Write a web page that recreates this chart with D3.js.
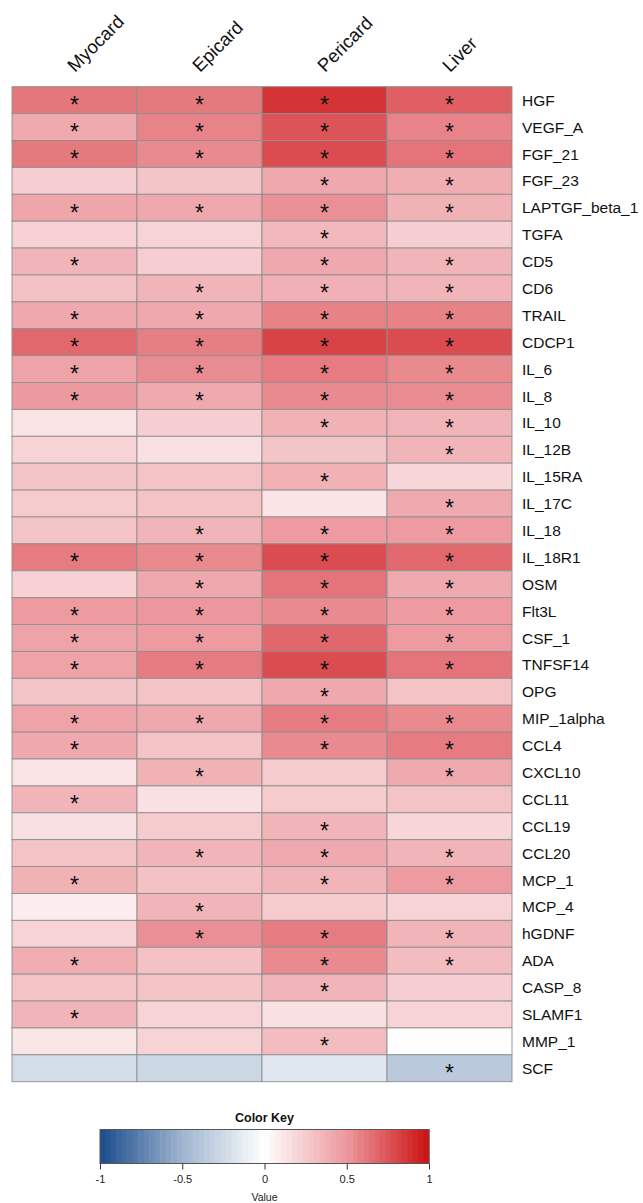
<!DOCTYPE html>
<html>
<head>
<meta charset="utf-8">
<script src="https://cdn.jsdelivr.net/npm/d3@7"></script>
<style>
  html, body { margin: 0; padding: 0; background: #fff; }
  svg { display: block; }
  text { font-family: "Liberation Sans", Arial, Helvetica, sans-serif; }
</style>
</head>
<body>
<div id="chart"></div>
<script>
const columns = ["Myocard", "Epicard", "Pericard", "Liver"];
const rows = ["HGF","VEGF_A","FGF_21","FGF_23","LAPTGF_beta_1","TGFA","CD5","CD6","TRAIL","CDCP1",
  "IL_6","IL_8","IL_10","IL_12B","IL_15RA","IL_17C","IL_18","IL_18R1","OSM","Flt3L",
  "CSF_1","TNFSF14","OPG","MIP_1alpha","CCL4","CXCL10","CCL11","CCL19","CCL20","MCP_1",
  "MCP_4","hGDNF","ADA","CASP_8","SLAMF1","MMP_1","SCF"];

// correlation values per column (row order above)
const myocard  = [0.62,0.41,0.61,0.24,0.43,0.22,0.36,0.30,0.42,0.67,0.44,0.49,0.13,0.21,0.28,0.25,0.29,0.60,0.22,0.48,0.44,0.44,0.28,0.44,0.42,0.13,0.36,0.15,0.29,0.37,0.09,0.21,0.39,0.29,0.36,0.12,-0.23];
const epicard  = [0.61,0.57,0.55,0.28,0.42,0.21,0.24,0.36,0.42,0.59,0.54,0.41,0.24,0.15,0.29,0.29,0.36,0.55,0.42,0.50,0.48,0.60,0.29,0.42,0.29,0.37,0.15,0.25,0.36,0.30,0.36,0.53,0.30,0.29,0.21,0.21,-0.27];
const pericard = [0.87,0.75,0.78,0.42,0.53,0.34,0.42,0.38,0.58,0.81,0.60,0.55,0.37,0.28,0.37,0.13,0.48,0.78,0.63,0.55,0.68,0.78,0.42,0.60,0.55,0.25,0.25,0.36,0.41,0.36,0.25,0.60,0.55,0.36,0.15,0.32,-0.16];
const liver    = [0.71,0.57,0.63,0.39,0.37,0.24,0.36,0.36,0.58,0.78,0.55,0.54,0.36,0.36,0.20,0.41,0.48,0.67,0.41,0.48,0.48,0.63,0.29,0.55,0.60,0.41,0.29,0.20,0.36,0.48,0.21,0.36,0.32,0.24,0.21,0.01,-0.36];

// significance markers (1 = "*")
const sigMyocard  = [1,1,1,0,1,0,1,0,1,1,1,1,0,0,0,0,0,1,0,1,1,1,0,1,1,0,1,0,0,1,0,0,1,0,1,0,0];
const sigEpicard  = [1,1,1,0,1,0,0,1,1,1,1,1,0,0,0,0,1,1,1,1,1,1,0,1,0,1,0,0,1,0,1,1,0,0,0,0,0];
const sigPericard = [1,1,1,1,1,1,1,1,1,1,1,1,1,0,1,0,1,1,1,1,1,1,1,1,1,0,0,1,1,1,0,1,1,1,0,1,0];
const sigLiver    = [1,1,1,1,1,0,1,1,1,1,1,1,1,1,0,1,1,1,1,1,1,1,0,1,1,1,0,0,1,1,0,1,1,0,0,0,1];

const keyTicks = [-1, -0.5, 0, 0.5, 1];
const keyTickLabels = ["-1", "-0.5", "0", "0.5", "1"];

const values = [myocard, epicard, pericard, liver];
const sigs = [sigMyocard, sigEpicard, sigPericard, sigLiver];

const W = 643, H = 1203;
const gx0 = 12, gx1 = 512, gy0 = 86.7, gy1 = 1081.7;

const color = d3.scaleLinear()
  .domain([-1, -0.5, 0, 0.5, 1])
  .range(["#1b4b8c", "#9fb5cf", "#ffffff", "#ec979d", "#cc1111"])
  .interpolate(d3.interpolateRgb)
  .clamp(true);

const x = d3.scaleBand().domain(columns).range([gx0, gx1]);
const y = d3.scaleBand().domain(rows).range([gy0, gy1]);

const svg = d3.select("#chart").append("svg").attr("width", W).attr("height", H);

const cells = [];
columns.forEach((c, ci) => rows.forEach((r, ri) => cells.push({c, r, v: values[ci][ri], s: sigs[ci][ri]})));

const g = svg.append("g");
g.selectAll("rect.cell").data(cells).join("rect")
  .attr("class", "cell")
  .attr("x", d => x(d.c)).attr("y", d => y(d.r))
  .attr("width", x.bandwidth()).attr("height", y.bandwidth())
  .attr("fill", d => color(d.v))
  .attr("stroke", "#8f8f8f").attr("stroke-width", 0.9);

const starFs = 23;
g.selectAll("text.star").data(cells.filter(d => d.s)).join("text")
  .attr("class", "star")
  .attr("x", d => x(d.c) + x.bandwidth() / 2)
  .attr("y", d => y(d.r) + y.bandwidth() / 2 + starFs * 0.56)
  .attr("text-anchor", "middle")
  .attr("font-size", starFs)
  .attr("fill", "#111")
  .text("*");

// row labels
svg.append("g").selectAll("text").data(rows).join("text")
  .attr("x", gx1 + 10)
  .attr("y", d => y(d) + y.bandwidth() / 2)
  .attr("dy", "0.36em")
  .attr("font-size", 15.5)
  .attr("fill", "#111")
  .text(d => d);

// column labels
svg.append("g").selectAll("text").data(columns).join("text")
  .attr("transform", d => `translate(${x(d) + x.bandwidth() / 2 + 0.5},73) rotate(-45)`)
  .attr("font-size", 18.5)
  .attr("fill", "#111")
  .text(d => d);

// color key
const kx0 = 100, kx1 = 429, ky0 = 1129.5, ky1 = 1163.5;
const kx = d3.scaleLinear().domain([-1, 1]).range([kx0, kx1]);
const nb = 60;
const bands = d3.range(nb).map(i => -1 + (i + 0.5) * 2 / nb);
const key = svg.append("g");
key.selectAll("rect").data(bands).join("rect")
  .attr("x", d => kx(d - 1 / nb))
  .attr("y", ky0)
  .attr("width", kx(2 / nb) - kx(0) + 0.5)
  .attr("height", ky1 - ky0)
  .attr("fill", d => color(d));
key.append("rect").attr("x", kx0).attr("y", ky0).attr("width", kx1 - kx0).attr("height", ky1 - ky0)
  .attr("fill", "none").attr("stroke", "#555").attr("stroke-width", 1);

const axis = d3.axisBottom(kx).tickValues(keyTicks).tickFormat((d, i) => keyTickLabels[i]).tickSize(6).tickPadding(6);
const ax = key.append("g").attr("transform", `translate(0,${ky1})`).call(axis);
ax.select(".domain").remove();
ax.selectAll(".tick line").attr("stroke", "#333");
ax.selectAll(".tick text").attr("font-size", 11).attr("fill", "#222")
  .attr("font-family", "'Liberation Sans', Arial, sans-serif");

key.append("text").attr("x", (kx0 + kx1) / 2).attr("y", 1122)
  .attr("text-anchor", "middle").attr("font-size", 12.5).attr("font-weight", "bold").attr("fill", "#111")
  .text("Color Key");
key.append("text").attr("x", (kx0 + kx1) / 2).attr("y", 1201)
  .attr("text-anchor", "middle").attr("font-size", 10.5).attr("fill", "#222")
  .text("Value");
</script>
</body>
</html>
